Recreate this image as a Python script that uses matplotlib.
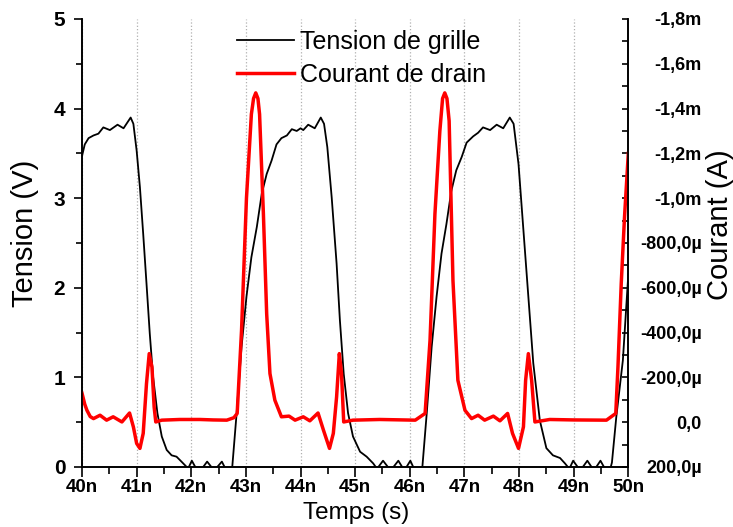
import matplotlib
matplotlib.use("Agg")
import matplotlib.pyplot as plt
from matplotlib.ticker import MultipleLocator, FuncFormatter

plt.rcParams["font.family"] = ["Liberation Sans", "DejaVu Sans"]

# ===== DATA (temps en ns) =====
t_grille = [40.00, 40.05, 40.12, 40.21, 40.30, 40.39, 40.51, 40.65, 40.76, 40.89, 40.94,
            41.00, 41.06, 41.12, 41.18, 41.24, 41.30, 41.38, 41.46, 41.55, 41.64, 41.73,
            41.82, 41.90, 41.94, 42.01, 42.10, 42.17, 42.29, 42.42, 42.56, 42.65, 42.72,
            42.75, 42.83, 42.92, 43.01, 43.10, 43.20, 43.29, 43.38, 43.47, 43.56, 43.65,
            43.75, 43.84, 43.93, 44.00, 44.05, 44.14, 44.26, 44.37, 44.43, 44.49, 44.57,
            44.66, 44.72, 44.79, 44.87, 44.96, 45.09, 45.21, 45.33, 45.40, 45.51, 45.65,
            45.79, 45.90, 46.01, 46.10, 46.19, 46.23, 46.31, 46.40, 46.49, 46.58, 46.67,
            46.76, 46.85, 46.95, 47.04, 47.16, 47.25, 47.34, 47.47, 47.59, 47.71, 47.83,
            47.90, 47.99, 48.08, 48.17, 48.26, 48.38, 48.50, 48.62, 48.75, 48.84, 48.92,
            48.99, 49.12, 49.25, 49.37, 49.49, 49.60, 49.67, 49.70, 49.78, 49.90, 50.00]
v_grille = [3.47, 3.60, 3.67, 3.70, 3.72, 3.79, 3.76, 3.82, 3.78, 3.90, 3.83,
            3.53, 3.12, 2.60, 2.05, 1.49, 1.01, 0.60, 0.34, 0.19, 0.13, 0.115,
            0.06, 0.01, -0.02, 0.07, -0.03, -0.04, 0.06, -0.04, 0.06, -0.05, -0.05,
            0.00, 0.60, 1.34, 1.90, 2.34, 2.68, 3.05, 3.27, 3.42, 3.60, 3.67,
            3.70, 3.77, 3.75, 3.78, 3.76, 3.82, 3.78, 3.90, 3.83, 3.57, 3.01,
            2.27, 1.64, 1.04, 0.60, 0.34, 0.17, 0.115, 0.04, -0.02, 0.07, -0.04,
            0.07, -0.04, 0.07, -0.05, -0.05, 0.00, 0.60, 1.34, 1.90, 2.38, 2.71,
            3.08, 3.31, 3.46, 3.62, 3.69, 3.73, 3.79, 3.76, 3.82, 3.78, 3.90,
            3.83, 3.38, 2.64, 1.90, 1.16, 0.52, 0.21, 0.13, 0.10, 0.04, -0.02,
            0.07, -0.04, 0.07, -0.04, 0.07, -0.05, -0.02, 0.05, 0.56, 1.19, 2.15]

t_drain = [40.00, 40.05, 40.09, 40.15, 40.21, 40.33, 40.45, 40.57, 40.73, 40.87, 40.94,
           41.00, 41.06, 41.12, 41.18, 41.23, 41.28, 41.32, 41.35, 41.46, 41.79, 42.16,
           42.40, 42.65, 42.78, 42.84, 42.92, 43.01, 43.10, 43.14, 43.18, 43.22, 43.25,
           43.32, 43.38, 43.44, 43.53, 43.65, 43.79, 43.90, 44.05, 44.17, 44.32, 44.42,
           44.53, 44.60, 44.66, 44.71, 44.75, 44.79, 44.96, 45.45, 46.10, 46.28, 46.37,
           46.46, 46.55, 46.60, 46.64, 46.68, 46.72, 46.79, 46.88, 47.01, 47.13, 47.25,
           47.37, 47.53, 47.65, 47.79, 47.88, 47.99, 48.08, 48.12, 48.17, 48.23, 48.29,
           48.56, 49.00, 49.60, 49.77, 49.81, 49.87, 49.93, 50.00]
i_drain = [-129e-6, -80e-6, -53e-6, -25e-6, -16e-6, -31e-6, -9e-6, -24e-6, -1e-6, -41e-6, 21e-6,
           95e-6, 117e-6, 50e-6, -172e-6, -306e-6, -246e-6, -68e-6, -1e-6, -9e-6, -12e-6, -12e-6,
           -10e-6, -9e-6, -20e-6, -39e-6, -410e-6, -1000e-6, -1375e-6, -1445e-6, -1470e-6, -1445e-6, -1375e-6,
           -930e-6, -484e-6, -217e-6, -98e-6, -24e-6, -27e-6, -9e-6, -24e-6, -6e-6, -41e-6, 36e-6,
           117e-6, 50e-6, -113e-6, -306e-6, -217e-6, -1e-6, -9e-6, -12e-6, -9e-6, -39e-6, -365e-6,
           -930e-6, -1300e-6, -1445e-6, -1470e-6, -1445e-6, -1345e-6, -632e-6, -187e-6, -53e-6, -16e-6, -31e-6,
           -9e-6, -27e-6, -6e-6, -39e-6, 50e-6, 117e-6, 21e-6, -187e-6, -306e-6, -187e-6, -1e-6,
           -12e-6, -10e-6, -9e-6, -39e-6, -246e-6, -618e-6, -915e-6, -1200e-6]


def fmt_courant(v, pos):
    micro = round(v * 1e6)
    if micro == 0:
        return "0,0"
    if abs(micro) >= 1000:
        return f"{micro / 1000:.1f}m".replace(".", ",")
    return f"{micro:.1f}µ".replace(".", ",")


fig = plt.figure(figsize=(7.33, 5.27), dpi=100)
ax = fig.add_axes([0.1119, 0.1139, 0.7453, 0.8501])
ax2 = ax.twinx()

l1, = ax.plot(t_grille, v_grille, color="black", linewidth=1.3, label="Tension de grille")
l2, = ax2.plot(t_drain, i_drain, color="#ff0000", linewidth=2.5, label="Courant de drain")

# ===== AXES =====
ax.set_xlim(40, 50)
ax.set_ylim(0, 5)
ax2.set_ylim(200e-6, -1.8e-3)

ax.xaxis.set_major_locator(MultipleLocator(1))
ax.xaxis.set_minor_locator(MultipleLocator(0.5))
ax.xaxis.set_major_formatter(FuncFormatter(lambda v, p: f"{v:.0f}n"))
ax.yaxis.set_major_locator(MultipleLocator(1))
ax.yaxis.set_minor_locator(MultipleLocator(0.5))
ax2.yaxis.set_major_locator(MultipleLocator(200e-6))
ax2.yaxis.set_minor_locator(MultipleLocator(100e-6))
ax2.yaxis.set_major_formatter(FuncFormatter(fmt_courant))

ax.tick_params(axis="x", which="major", direction="out", length=7, width=1.2, pad=2,
               labelsize=13.5)
ax.tick_params(axis="x", which="minor", direction="out", length=5, width=1.2)
ax.tick_params(axis="y", which="major", direction="out", length=6, width=1.2, pad=6,
               labelsize=15)
ax.tick_params(axis="y", which="minor", direction="out", length=4, width=1.2)
ax2.tick_params(axis="y", which="both", direction="in", length=4.5, width=1.2, pad=53,
                labelsize=13)

for lbl in ax.get_xticklabels() + ax.get_yticklabels():
    lbl.set_fontweight("bold")
for lbl in ax2.get_yticklabels():
    lbl.set_fontweight("bold")
    lbl.set_horizontalalignment("right")

for s in ["left", "bottom", "right"]:
    ax.spines[s].set_linewidth(1.2)
    ax2.spines[s].set_linewidth(1.2)
ax.spines["top"].set_visible(False)
ax2.spines["top"].set_visible(False)

ax.grid(axis="x", which="major", linestyle=":", color="#b0b0b0", linewidth=0.9)

ax.set_xlabel("Temps (s)", fontsize=17.5)
ax.set_ylabel("Tension (V)", fontsize=21)
ax2.set_ylabel("Courant (A)", fontsize=21)
ax.xaxis.set_label_coords(0.502, -0.078)
ax.yaxis.set_label_coords(-0.078, 0.522)
ax2.yaxis.set_label_coords(1.143, 0.540)

ax2.legend([l1, l2], ["Tension de grille", "Courant de drain"], loc="upper left",
           bbox_to_anchor=(0.2645, 0.998), frameon=False, fontsize=18,
           handlelength=2.3, handletextpad=0.25, labelspacing=0.36, borderaxespad=0)

fig.savefig("out.png", dpi=100)
plt.close(fig)
